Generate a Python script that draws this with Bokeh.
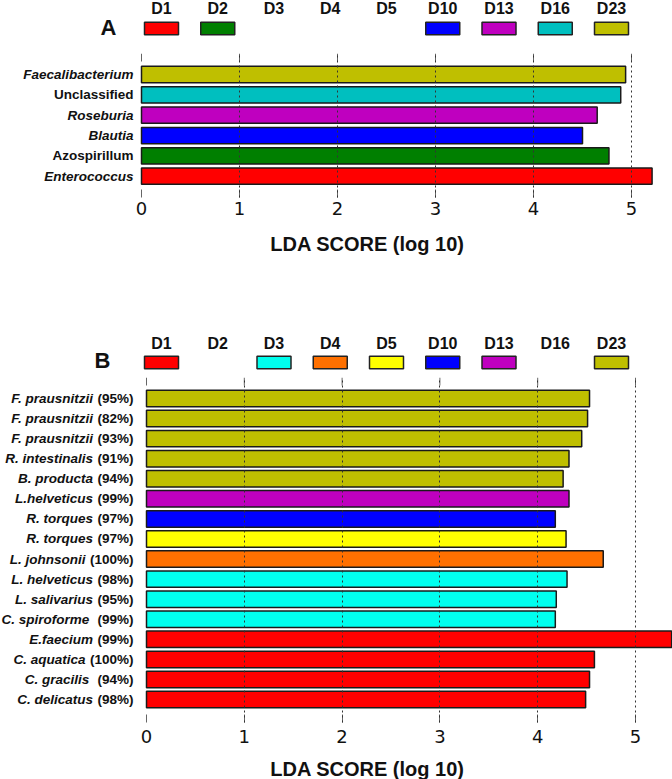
from bokeh.plotting import figure
from bokeh.models import Range1d, FixedTicker
from bokeh.layouts import column
from bokeh.core.properties import value
from bokeh.embed import file_html
from bokeh.resources import INLINE

# ---------------- data ----------------
groups = ["D1", "D2", "D3", "D4", "D5", "D10", "D13", "D16", "D23"]
colors_a = {"D1": "#FF0000", "D2": "#007F00", "D10": "#0000FF", "D13": "#BF00BF",
            "D16": "#00BFBF", "D23": "#BFBF00"}
colors_b = {"D1": "#FF0000", "D3": "#00FFEE", "D4": "#FF7000", "D5": "#FFFF00",
            "D10": "#0000FF", "D13": "#BF00BF", "D23": "#BFBF00"}

taxa_a = ["Faecalibacterium", "Unclassified", "Roseburia", "Blautia", "Azospirillum", "Enterococcus"]
italic_a = [True, False, True, True, False, True]
group_a = ["D23", "D16", "D13", "D10", "D2", "D1"]
lda_a = [4.94, 4.89, 4.65, 4.50, 4.77, 5.21]

taxa_b = ["F. prausnitzii", "F. prausnitzii", "F. prausnitzii", "R. intestinalis", "B. producta",
          "L.helveticus", "R. torques", "R. torques", "L. johnsonii", "L. helveticus",
          "L. salivarius", "C.  spiroforme", "E.faecium", "C. aquatica", "C.  gracilis", "C. delicatus"]
pct_b = ["(95%)", "(82%)", "(93%)", "(91%)", "(94%)", "(99%)", "(97%)", "(97%)", "(100%)", "(98%)",
         "(95%)", "(99%)", "(99%)", "(100%)", "(94%)", "(98%)"]
group_b = ["D23", "D23", "D23", "D23", "D23", "D13", "D10", "D5", "D4", "D3",
           "D3", "D3", "D1", "D1", "D1", "D1"]
lda_b = [4.53, 4.51, 4.45, 4.32, 4.26, 4.32, 4.18, 4.29, 4.67, 4.30,
         4.19, 4.18, 5.37, 4.58, 4.53, 4.49]

ticks = [0, 1, 2, 3, 4, 5]
grid_ticks = [1, 2, 3, 4, 5]
axis_title = "LDA SCORE (log 10)"

W = 672
BOLD_FONT = "Liberation Sans"
LABEL_PX = 13.5
INK = "#111111"


def blank_fig(height):
    p = figure(width=W, height=height, x_range=Range1d(0, W), y_range=Range1d(height, 0),
               x_axis_location=None, y_axis_location=None, min_border=0,
               toolbar_location=None, output_backend="svg", outline_line_color=None)
    p.grid.visible = False
    return p


def legend_fig(height, letter, colors, label_y, box_y, letter_x, letter_y):
    p = blank_fig(height)
    xs = [161 + i * 56.25 for i in range(len(groups))]
    p.text(x=xs, y=[label_y] * len(groups), text=groups, text_align="center",
           text_baseline="middle", text_font=value(BOLD_FONT), text_font_style="bold",
           text_font_size="16px", text_color=INK)
    bx = [x for x, g in zip(xs, groups) if g in colors]
    bc = [colors[g] for g in groups if g in colors]
    p.rect(x=bx, y=[box_y] * len(bx), width=34, height=12.5, fill_color=bc,
           line_color="#222222", line_width=1.5)
    p.text(x=[letter_x], y=[letter_y], text=[letter], text_align="center",
           text_baseline="middle", text_font=value(BOLD_FONT), text_font_style="bold",
           text_font_size="22px", text_color=INK)
    return p


def title_fig(height, cx, cy):
    p = blank_fig(height)
    p.text(x=[cx], y=[cy], text=[axis_title], text_align="center", text_baseline="middle",
           text_font=value(BOLD_FONT), text_font_style="bold", text_font_size="20px",
           text_color=INK)
    return p


def text_width(s, px):
    w = {"(": 0.333, ")": 0.333, "%": 0.889}
    return sum(w.get(c, 0.556) for c in s) * px


def bar_fig(height, zero_px, unit_px, frame_h, row_px, top_pad, n, border_bottom, standoff):
    y_top = (n - 1) + top_pad / row_px
    y_bot = y_top - frame_h / row_px
    p = figure(width=W, height=height,
               x_range=Range1d(-zero_px / unit_px, (W - zero_px) / unit_px),
               y_range=Range1d(y_bot, y_top),
               y_axis_location=None, min_border_left=0, min_border_right=0,
               min_border_top=0, min_border_bottom=border_bottom,
               toolbar_location=None, output_backend="svg", outline_line_color=None)
    p.ygrid.visible = False
    p.xgrid.ticker = FixedTicker(ticks=grid_ticks)
    p.xgrid.grid_line_color = "#333333"
    p.xgrid.grid_line_dash = "2 3"
    p.xgrid.grid_line_width = 1
    p.xgrid.level = "overlay"
    ax = p.xaxis[0]
    ax.ticker = FixedTicker(ticks=ticks)
    ax.axis_line_color = None
    ax.major_tick_in = 8
    ax.major_tick_out = 0
    ax.minor_tick_line_color = None
    ax.major_tick_line_color = "#666666"
    ax.major_label_text_font = "DejaVu Sans"
    ax.major_label_text_font_size = "18px"
    ax.major_label_text_color = INK
    ax.major_label_standoff = standoff
    # short tick marks along the top edge of the frame, at the same tick values
    p.segment(x0=ticks, x1=ticks, y0=[y_top] * len(ticks),
              y1=[y_top - 8 / row_px] * len(ticks), line_color="#666666", line_width=1)
    return p


# ---------------- panel A ----------------
legA = legend_fig(53, "A", colors_a, 8, 28, 108, 27)

nA = len(taxa_a)
yA = [nA - 1 - i for i in range(nA)]
barA = bar_fig(174, 141, 98.0, 144, 20.34, 21, nA, 30, 4)
barA.hbar(y=yA, left=0, right=lda_a, height=0.8,
          fill_color=[colors_a[g] for g in group_a], line_color="#1a1a1a", line_width=1.5)
barA.text(x=[0] * nA, y=yA, text=taxa_a, x_offset=-8, text_align="right",
          text_baseline="middle", text_font=value(BOLD_FONT),
          text_font_style=["bold italic" if it else "bold" for it in italic_a],
          text_font_size=f"{LABEL_PX}px", text_color=INK)
titA = title_fig(73, 367, 16)

# ---------------- panel B ----------------
legB = legend_fig(77, "B", colors_b, 43, 62, 102, 60)

nB = len(taxa_b)
yB = [nB - 1 - i for i in range(nB)]
barB = bar_fig(374, 146, 97.8, 345, 20.07, 21, nB, 29, 7)
barB.hbar(y=yB, left=0, right=lda_b, height=0.82,
          fill_color=[colors_b[g] for g in group_b], line_color="#1a1a1a", line_width=1.5)
barB.text(x=[0] * nB, y=yB, text=pct_b, x_offset=-13, text_align="right",
          text_baseline="middle", text_font=value(BOLD_FONT), text_font_style="bold",
          text_font_size=f"{LABEL_PX}px", text_color=INK)
barB.text(x=[0] * nB, y=yB, text=taxa_b,
          x_offset=[-13 - text_width(s, LABEL_PX) - 4.5 for s in pct_b], text_align="right",
          text_baseline="middle", text_font=value(BOLD_FONT), text_font_style="bold italic",
          text_font_size=f"{LABEL_PX}px", text_color=INK)
titB = title_fig(28, 367, 17)

layout = column(legA, barA, titA, legB, barB, titB, spacing=0)
open("out.html", "w").write(file_html(layout, INLINE))
